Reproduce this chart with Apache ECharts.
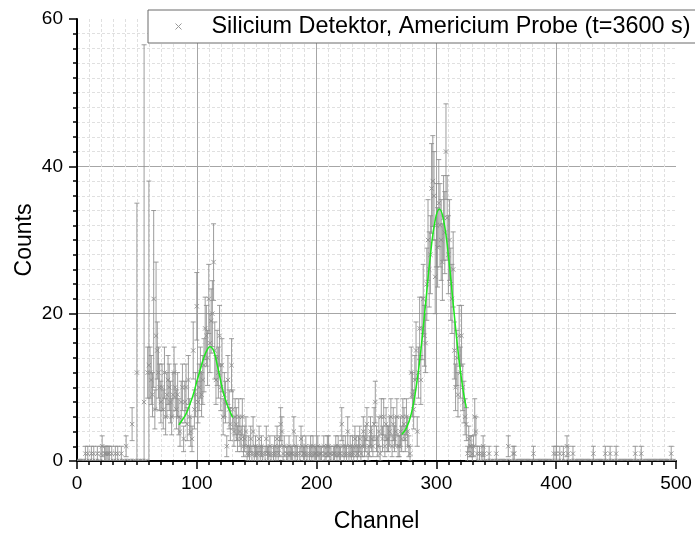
<!DOCTYPE html>
<html>
<head>
<meta charset="utf-8">
<script src="https://cdn.jsdelivr.net/npm/echarts@6/dist/echarts.min.js"></script>
<style>
  html, body { margin: 0; padding: 0; background: #fff; }
  #chart { width: 695px; height: 534px; }
</style>
</head>
<body>
<div id="chart"></div>
<script>
// Counts per channel, channel = index (0 .. 500)
const counts = [
  0,0,0,0,0,0,0,1,0,1, 0,0,1,0,1,0,0,1,0,0,          // 0-19
  1,2,0,1,1,1,1,1,0,1, 0,0,1,0,1,0,0,1,0,0,          // 20-39
  0,2,0,0,0,0,5,0,0,0, 12,0,0,0,0,0,8,0,0,12,        // 40-59
  13,12,11,9,22,7,17,15,12,10, 8,10,7,12,6,9,11,10,8,6,   // 60-79
  9,12,10,7,9,6,4,8,10,3, 8,10,5,11,6,4,3,15,7,9,    // 80-99
  21,8,10,12,9,11,13,18,17,14, 22,16,19,20,27,15,11,14,12,17, // 100-119
  10,13,6,9,8,2,11,7,5,13, 7,4,6,5,3,6,4,3,6,2,      // 120-139
  3,4,1,2,1,3,1,4,1,2, 1,1,3,1,2,1,0,1,3,1,          // 140-159
  1,2,1,0,1,2,1,3,1,2, 5,4,1,2,0,1,1,2,1,1,          // 160-179
  1,4,1,2,1,0,1,3,2,1, 1,2,1,0,1,2,1,2,1,1,          // 180-199
  1,2,1,1,1,0,2,1,1,2, 2,1,1,0,1,1,2,1,2,1,          // 200-219
  1,5,2,1,2,1,4,1,2,1, 2,1,3,2,1,2,3,1,2,4,          // 220-239
  2,3,5,1,2,4,3,2,5,8, 3,2,4,1,6,3,6,2,5,3,          // 240-259
  3,4,6,2,5,3,4,6,2,2, 4,3,6,5,3,6,4,2,1,12,         // 260-279
  9,7,11,15,4,12,18,11,18,22, 17,16,24,30,26,28,37,38,36,25, // 280-299
  32,29,35,32,30,27,33,31,42,33, 28,30,24,22,26,15,10,14,9,17, // 300-319
  12,17,10,8,6,5,1,3,2,2, 1,2,6,4,1,0,1,0,1,2,       // 320-339
  1,0,0,0,1,0,0,0,0,0, 1,0,0,0,0,0,0,0,0,0,          // 340-359
  2,0,0,0,1,1,0,0,0,0, 0,0,0,0,0,0,0,0,0,0,          // 360-379
  0,1,0,0,0,0,0,0,0,0, 0,0,0,0,0,0,0,0,1,0,          // 380-399
  1,0,0,1,0,0,1,0,0,2, 1,0,0,0,1,0,0,0,0,0,          // 400-419
  0,0,0,0,0,0,0,0,0,0, 0,1,0,0,0,0,0,0,0,0,          // 420-439
  0,1,0,0,0,1,0,0,0,0, 1,0,0,0,0,0,0,0,0,0,          // 440-459
  0,0,0,0,0,0,1,0,0,0, 0,1,0,0,0,0,0,0,0,0,          // 460-479
  0,0,0,0,0,0,0,0,0,0, 0,0,0,0,0,0,1,0,0,0,          // 480-499
  0                                                  // 500
];

// Channels in the noisy low-energy edge whose uncertainty exceeds sqrt(N)
const wideErrors = { 50: 23, 56: 48.5, 60: 25, 64: 12, 66: 10 };

// Gaussian fit curves of the two peaks
const leftFitChannel  = [85, 88, 91, 94, 97, 100, 103, 106, 109, 111, 113, 115, 117, 119, 122, 125, 128, 130];
const leftFitCounts   = [4.9, 5.6, 6.4, 7.6, 9.0, 10.8, 12.5, 14.1, 15.2, 15.5, 15.3, 14.5, 13.1, 11.6, 9.4, 7.8, 6.6, 5.9];
const rightFitChannel = [271, 275, 279, 283, 287, 291, 295, 299, 302.5, 306, 310, 314, 318, 322, 325];
const rightFitCounts  = [3.6, 4.5, 6.4, 9.9, 15.0, 21.4, 27.9, 32.7, 34.2, 32.7, 27.9, 21.4, 15.0, 9.9, 7.2];

const xTicks = [0, 100, 200, 300, 400, 500];
const yTicks = [0, 20, 40, 60];

const seriesName = 'Silicium Detektor, Americium Probe (t=3600 s)';
const FONT = "'Liberation Sans', Arial, sans-serif";
const GRAY = '#8c8c8c';
const FIT_GREEN = '#1ee81e';

// [channel, counts, uncertainty] — Poisson error unless listed above
const points = counts.map((c, ch) => [ch, c, wideErrors[ch] !== undefined ? wideErrors[ch] : Math.sqrt(c)]);

function renderPoint(params, api) {
  const ch = api.value(0), c = api.value(1), e = api.value(2);
  const p = api.coord([ch, c]);
  const stroke = { stroke: GRAY, lineWidth: 1, opacity: 0.85 };
  const children = [];
  if (e > 0) {
    const top = api.coord([ch, c + e]);
    const bot = api.coord([ch, c - e]);
    const cap = 2.5;
    children.push({ type: 'line', shape: { x1: p[0], y1: top[1], x2: p[0], y2: bot[1] }, style: stroke });
    children.push({ type: 'line', shape: { x1: p[0] - cap, y1: top[1], x2: p[0] + cap, y2: top[1] }, style: stroke });
    children.push({ type: 'line', shape: { x1: p[0] - cap, y1: bot[1], x2: p[0] + cap, y2: bot[1] }, style: stroke });
  }
  const m = 2.2;
  children.push({ type: 'line', shape: { x1: p[0] - m, y1: p[1] - m, x2: p[0] + m, y2: p[1] + m }, style: stroke });
  children.push({ type: 'line', shape: { x1: p[0] - m, y1: p[1] + m, x2: p[0] + m, y2: p[1] - m }, style: stroke });
  return { type: 'group', children };
}

function splitColors(ticks) {
  return ticks.map((t, i) => (i === 0 || i === ticks.length - 1) ? 'rgba(0,0,0,0)' : '#a6a6a6');
}

const axisCommon = {
  type: 'value',
  nameLocation: 'middle',
  nameMoveOverlap: false,
  nameTextStyle: { fontSize: 23, color: '#000', fontFamily: FONT },
  axisLine: { show: true, onZero: false, lineStyle: { color: '#000', width: 2 } },
  axisTick: { show: true, inside: false, length: 8, lineStyle: { color: '#000', width: 1.5 } },
  minorTick: { show: true, splitNumber: 10, length: 4, lineStyle: { color: '#000', width: 1.5 } },
  minorSplitLine: { show: true, lineStyle: { color: '#e0e0e0', width: 1, type: [3, 2] } },
  axisLabel: { fontSize: 19, color: '#000', fontFamily: FONT }
};

const chart = echarts.init(document.getElementById('chart'), null, { renderer: 'canvas' });
chart.setOption({
  animation: false,
  backgroundColor: '#fff',
  grid: { left: 77, right: 19, top: 19, bottom: 73, containLabel: false, outerBoundsMode: 'none' },
  legend: {
    left: 148, top: 10,
    padding: [5, 40, 5, 25],
    itemWidth: 20, itemHeight: 6,
    borderColor: '#6a6a6a', borderWidth: 1,
    backgroundColor: '#fff',
    textStyle: { fontSize: 23.4, color: '#000', fontFamily: FONT, padding: [0, 0, 0, 18] },
    data: [{
      name: seriesName,
      icon: 'path://M0,0L1,1M1,0L0,1',
      itemStyle: { color: 'none', borderColor: '#999', borderWidth: 1 }
    }]
  },
  xAxis: Object.assign({}, axisCommon, {
    min: xTicks[0], max: xTicks[xTicks.length - 1], interval: xTicks[1] - xTicks[0],
    name: 'Channel', nameGap: 49,
    axisLabel: Object.assign({}, axisCommon.axisLabel, { margin: 13 }),
    splitLine: { show: true, lineStyle: { color: splitColors(xTicks), width: 1 } }
  }),
  yAxis: Object.assign({}, axisCommon, {
    min: yTicks[0], max: yTicks[yTicks.length - 1], interval: yTicks[1] - yTicks[0],
    name: 'Counts', nameGap: 41,
    axisLabel: Object.assign({}, axisCommon.axisLabel, { margin: 14 }),
    splitLine: { show: true, lineStyle: { color: splitColors(yTicks), width: 1 } }
  }),
  series: [
    {
      name: seriesName,
      type: 'custom',
      renderItem: renderPoint,
      clip: true,
      data: points,
      encode: { x: 0, y: 1 },
      z: 2
    },
    {
      name: 'Fit Peak 1',
      type: 'line',
      smooth: true,
      showSymbol: false,
      data: leftFitChannel.map((x, i) => [x, leftFitCounts[i]]),
      lineStyle: { color: FIT_GREEN, width: 1.5 },
      z: 3
    },
    {
      name: 'Fit Peak 2',
      type: 'line',
      smooth: true,
      showSymbol: false,
      data: rightFitChannel.map((x, i) => [x, rightFitCounts[i]]),
      lineStyle: { color: FIT_GREEN, width: 1.5 },
      z: 3
    }
  ]
});
</script>
</body>
</html>
